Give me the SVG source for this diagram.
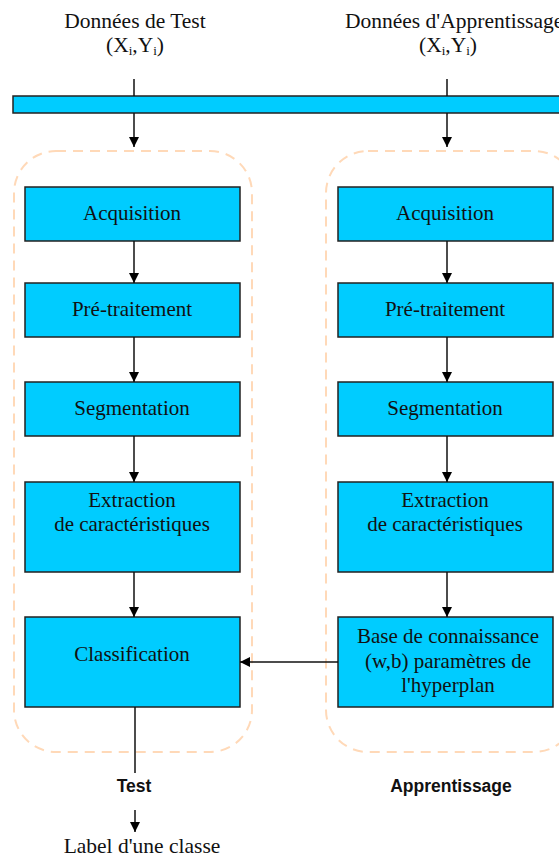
<svg xmlns="http://www.w3.org/2000/svg" width="559" height="857" viewBox="0 0 559 857">
<defs>
<marker id="ah" viewBox="0 0 10 10" refX="10" refY="5" markerWidth="10" markerHeight="10" markerUnits="userSpaceOnUse" orient="auto"><path d="M0,0 L10,5 L0,10 z" fill="#000"/></marker>
<style>
.box{fill:#00CCFF;stroke:#222;stroke-width:1.5}
.grp{fill:none;stroke:#FFD9B8;stroke-width:2;stroke-dasharray:10,7}
.t{font-family:"Liberation Serif","Times New Roman",serif;font-size:21px;fill:#111;text-anchor:middle}
.h{font-family:"Liberation Serif","Times New Roman",serif;font-size:21.5px;fill:#111;text-anchor:middle}
.b{font-family:"Liberation Sans",Arial,sans-serif;font-size:17.5px;font-weight:bold;fill:#111;text-anchor:middle}
.c{stroke:#111;stroke-width:1.5;fill:none}
.sub{font-size:13px}
</style>
</defs>
<rect width="559" height="857" fill="#fff"/>
<g id="labels-top">
<text class="h" x="135" y="28">Données de Test</text>
<text class="h" x="135" y="52">(X<tspan class="sub" dy="3">i</tspan><tspan dy="-3">,Y</tspan><tspan class="sub" dy="3">i</tspan><tspan dy="-3">)</tspan></text>
<text class="h" x="345" y="28" style="text-anchor:start">Données d'Apprentissage</text>
<text class="h" x="448" y="52">(X<tspan class="sub" dy="3">i</tspan><tspan dy="-3">,Y</tspan><tspan class="sub" dy="3">i</tspan><tspan dy="-3">)</tspan></text>
</g>
<g id="bar"><rect class="box" x="13" y="96" width="550" height="17"/></g>
<g id="group-test"><rect class="grp" x="14" y="151" width="238" height="601" rx="42"/></g>
<g id="group-app"><rect class="grp" x="326" y="151" width="250" height="601" rx="42"/></g>
<g id="t-acq"><rect class="box" x="25" y="187" width="215" height="54"/><text class="t" x="132" y="220">Acquisition</text></g>
<g id="t-pre"><rect class="box" x="25" y="283" width="215" height="54"/><text class="t" x="132" y="316">Pré-traitement</text></g>
<g id="t-seg"><rect class="box" x="25" y="382" width="215" height="54"/><text class="t" x="132" y="415">Segmentation</text></g>
<g id="t-ext"><rect class="box" x="25" y="482" width="215" height="90"/><text class="t" x="132" y="507">Extraction</text><text class="t" x="132" y="531">de caractéristiques</text></g>
<g id="t-cls"><rect class="box" x="25" y="617" width="215" height="90"/><text class="t" x="132" y="661">Classification</text></g>
<g id="a-acq"><rect class="box" x="338" y="187" width="215" height="54"/><text class="t" x="445" y="220">Acquisition</text></g>
<g id="a-pre"><rect class="box" x="338" y="283" width="215" height="54"/><text class="t" x="445" y="316">Pré-traitement</text></g>
<g id="a-seg"><rect class="box" x="338" y="382" width="215" height="54"/><text class="t" x="445" y="415">Segmentation</text></g>
<g id="a-ext"><rect class="box" x="338" y="482" width="215" height="90"/><text class="t" x="445" y="507">Extraction</text><text class="t" x="445" y="531">de caractéristiques</text></g>
<g id="a-base"><rect class="box" x="338" y="617" width="215" height="90"/><text class="t" x="448" y="643">Base de connaissance</text><text class="t" x="448" y="668">(w,b) paramètres de</text><text class="t" x="448" y="692">l'hyperplan</text></g>
<g id="labels-bottom">
<text class="b" x="134" y="792">Test</text>
<text class="b" x="451" y="792">Apprentissage</text>
<text class="h" x="142" y="853">Label d'une classe</text>
</g>
<g id="connectors">
<line class="c" x1="134" y1="79" x2="134" y2="96"/>
<line class="c" x1="447" y1="79" x2="447" y2="96"/>
<line class="c" x1="134" y1="113" x2="134" y2="147" marker-end="url(#ah)"/>
<line class="c" x1="447" y1="113" x2="447" y2="147" marker-end="url(#ah)"/>
<line class="c" x1="134" y1="241" x2="134" y2="283" marker-end="url(#ah)"/>
<line class="c" x1="134" y1="337" x2="134" y2="382" marker-end="url(#ah)"/>
<line class="c" x1="134" y1="436" x2="134" y2="482" marker-end="url(#ah)"/>
<line class="c" x1="134" y1="572" x2="134" y2="617" marker-end="url(#ah)"/>
<line class="c" x1="447" y1="241" x2="447" y2="283" marker-end="url(#ah)"/>
<line class="c" x1="447" y1="337" x2="447" y2="382" marker-end="url(#ah)"/>
<line class="c" x1="447" y1="436" x2="447" y2="482" marker-end="url(#ah)"/>
<line class="c" x1="447" y1="572" x2="447" y2="617" marker-end="url(#ah)"/>
<line class="c" x1="338" y1="662" x2="240" y2="662" marker-end="url(#ah)"/>
<line class="c" x1="135" y1="707" x2="135" y2="773"/>
<line class="c" x1="135" y1="810" x2="135" y2="832" marker-end="url(#ah)"/>
</g>
</svg>
